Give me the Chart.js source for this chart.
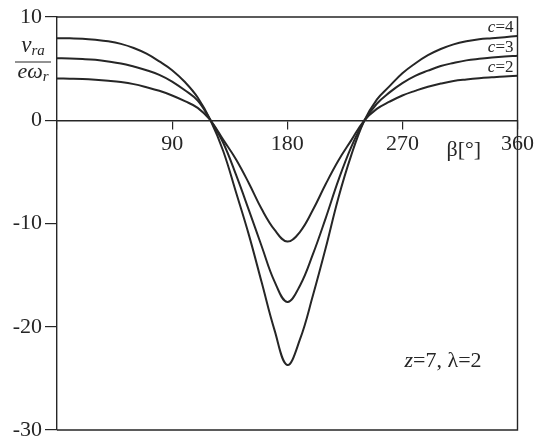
<!DOCTYPE html>
<html>
<head>
<meta charset="utf-8">
<script src="https://cdn.jsdelivr.net/npm/chart.js@4/dist/chart.umd.min.js"></script>
<style>
  html, body { margin: 0; padding: 0; background: #fff; }
  #wrap { width: 537px; height: 441px; }
</style>
</head>
<body>
<div id="wrap"><canvas id="chart"></canvas></div>
<script>
// Angle beta in degrees
const beta = [0, 10, 20, 30, 40, 50, 60, 70, 80, 90, 100, 110, 120, 130, 140, 150, 160, 170, 180,
              190, 200, 210, 220, 230, 240, 250, 260, 270, 280, 290, 300, 310, 320, 330, 340, 350, 360];

// Relative velocity v_ra / (e*omega_r) for three values of c
const c2 = [4.05, 4.03, 4.0, 3.93, 3.83, 3.7, 3.5, 3.2, 2.85, 2.4, 1.85, 1.2, 0, -1.9, -3.8, -6.1, -8.6, -10.6, -11.75,
            -10.8, -8.7, -6.2, -3.9, -1.95, -0.05, 1.1, 1.8, 2.4, 2.85, 3.25, 3.55, 3.8, 3.95, 4.07, 4.16, 4.24, 4.3];
const c3 = [6.0, 5.98, 5.93, 5.85, 5.7, 5.5, 5.2, 4.85, 4.4, 3.75, 2.9, 1.9, 0, -2.2, -5.3, -8.7, -12.2, -15.6, -17.6,
            -16.0, -13.0, -9.5, -5.8, -2.6, -0.1, 1.6, 2.7, 3.6, 4.3, 4.8, 5.25, 5.55, 5.8, 5.95, 6.07, 6.17, 6.25];
const c4 = [7.95, 7.93, 7.9, 7.8, 7.65, 7.4, 7.0, 6.45, 5.7, 4.85, 3.7, 2.2, 0, -3.0, -7.0, -11.1, -15.7, -20.3, -23.7,
            -21.2, -17.0, -12.4, -7.5, -3.4, -0.1, 2.0, 3.3, 4.55, 5.5, 6.3, 6.9, 7.35, 7.65, 7.85, 7.95, 8.05, 8.15];

const seriesNames = ['c=2', 'c=3', 'c=4'];
const seriesValues = [c2, c3, c4];

const xTickValues = [90, 180, 270, 360];
const yTickValues = [10, 0, -10, -20, -30];

const ink = '#262626';
const serif = '"Liberation Serif", "Times New Roman", serif';

function drawParts(ctx, parts, x, y, align) {
  let total = 0;
  parts.forEach(p => { ctx.font = p[1]; total += ctx.measureText(p[0]).width; });
  let cx = align === 'center' ? x - total / 2 : (align === 'right' ? x - total : x);
  ctx.textAlign = 'left';
  parts.forEach(p => {
    ctx.font = p[1];
    ctx.fillText(p[0], cx, y + (p[2] || 0));
    cx += ctx.measureText(p[0]).width;
  });
}

const decorations = {
  id: 'decorations',
  afterDraw(chart) {
    const { ctx, chartArea: a, scales: { x, y } } = chart;
    ctx.save();

    // frame: top, right and bottom edges of the plot
    ctx.strokeStyle = ink;
    ctx.lineWidth = 1.4;
    ctx.beginPath();
    ctx.moveTo(a.left, a.top);
    ctx.lineTo(a.right, a.top);
    ctx.lineTo(a.right, a.bottom);
    ctx.lineTo(a.left, a.bottom);
    ctx.stroke();

    ctx.fillStyle = ink;
    ctx.textBaseline = 'alphabetic';

    // y quantity written as a fraction
    const fx = a.left - 24;
    drawParts(ctx, [['v', 'italic 23px ' + serif], ['ra', 'italic 15px ' + serif, 3]], fx, a.top + 35, 'center');
    ctx.lineWidth = 1.2;
    ctx.beginPath();
    ctx.moveTo(fx - 18, a.top + 45);
    ctx.lineTo(fx + 18, a.top + 45);
    ctx.stroke();
    drawParts(ctx, [['eω', 'italic 22px ' + serif], ['r', 'italic 15px ' + serif, 3]], fx, a.top + 61, 'center');

    // x quantity
    drawParts(ctx, [['β[°]', '22px ' + serif]], a.right - 71, y.getPixelForValue(0) + 36, 'left');

    // curve names at the right end of each curve
    seriesValues.forEach((vals, i) => {
      const last = vals[vals.length - 1];
      const yy = y.getPixelForValue(last) - 4;
      const name = seriesNames[i];
      drawParts(ctx, [[name.slice(0, 1), 'italic 17px ' + serif], [name.slice(1), '17px ' + serif]], a.right - 4, yy, 'right');
    });

    // parameters
    drawParts(ctx, [['z', 'italic 22px ' + serif], ['=7, λ=2', '22px ' + serif]], a.right - 113, a.bottom - 63, 'left');

    ctx.restore();
  }
};

const datasets = seriesValues.map((vals, i) => ({
  label: seriesNames[i],
  data: beta.map((b, k) => ({ x: b, y: vals[k] })),
  borderColor: ink,
  borderWidth: 2,
  pointRadius: 0,
  fill: false,
  tension: 0.4
}));

new Chart(document.getElementById('chart'), {
  type: 'line',
  data: { datasets },
  options: {
    responsive: true,
    maintainAspectRatio: false,
    animation: false,
    layout: { padding: { left: 0, top: 17, right: 19, bottom: 11 } },
    plugins: { legend: { display: false }, tooltip: { enabled: false } },
    scales: {
      x: {
        type: 'linear',
        position: { y: 0 },
        min: 0,
        max: 360,
        afterBuildTicks: s => { s.ticks = [0].concat(xTickValues).map(v => ({ value: v })); },
        afterFit: s => { s.paddingTop = 0; s.paddingBottom = 0; },
        ticks: {
          autoSkip: false,
          maxRotation: 0,
          padding: 3,
          color: ink,
          font: { family: serif, size: 22 },
          callback: v => (xTickValues.includes(v) ? String(v) : '')
        },
        grid: { drawOnChartArea: false, drawTicks: true, tickLength: 8, color: ink, lineWidth: 1.2 },
        border: { display: true, color: ink, width: 1.4 }
      },
      y: {
        type: 'linear',
        position: 'left',
        min: -30,
        max: 10,
        afterBuildTicks: s => { s.ticks = yTickValues.map(v => ({ value: v })); },
        afterFit: s => { s.width = 57; s.paddingTop = 0; s.paddingBottom = 0; },
        ticks: {
          padding: 3,
          color: ink,
          font: { family: serif, size: 22 },
          callback: v => String(v)
        },
        grid: { drawOnChartArea: false, drawTicks: true, tickLength: 12, color: ink, lineWidth: 1.2 },
        border: { display: true, color: ink, width: 1.4 }
      }
    }
  },
  plugins: [decorations]
});
</script>
</body>
</html>
